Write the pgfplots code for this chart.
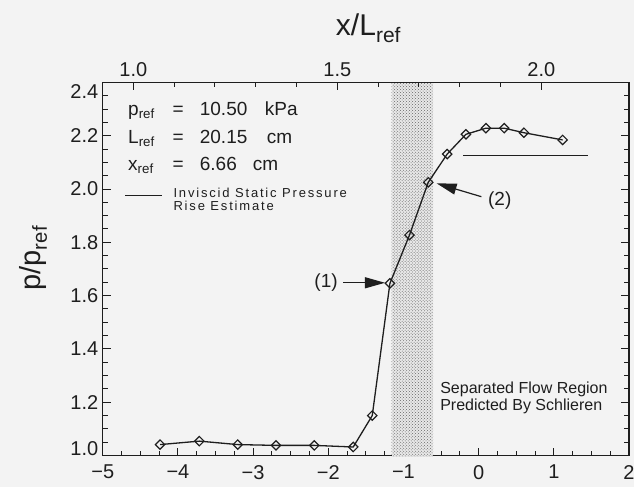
\documentclass[border=0pt]{standalone}
\usepackage{fontspec}
\setmainfont{Liberation Sans}
\newfontfamily\widesans[LetterSpace=14]{Liberation Sans}
\usepackage{pgfplots}
\usepackage{pgfplotstable}
\pgfplotsset{compat=1.18}
\usetikzlibrary{arrows.meta,patterns}

\definecolor{paper}{RGB}{243,243,243}
\definecolor{ink}{RGB}{30,30,30}

% wall pressure distribution, x measured from x_ref
\pgfplotstableread{
x       y
-4.238  1.041
-3.715  1.054
-3.205  1.041
-2.695  1.038
-2.186  1.038
-1.668  1.032
-1.415  1.150
-1.180  1.646
-0.920  1.827
-0.670  2.025
-0.418  2.131
-0.169  2.205
 0.097  2.228
 0.340  2.228
 0.602  2.211
 1.117  2.184
}\pressure

\newcommand\sub[1]{\textsubscript{#1}}
\newcommand\ticksize{\fontsize{20bp}{22bp}\selectfont}

\begin{document}
\begin{tikzpicture}
\path[use as bounding box, fill=paper] (-102.7bp,-31.7bp) rectangle (531bp,455.3bp);
\begin{axis}[
  scale only axis, width=526bp, height=373bp,
  xmin=-5, xmax=2, ymin=1.0, ymax=2.4,
  xtick={-5,-4,-3,-2,-1,0,1,2},
  xticklabels={−5,−4,−3,−2,−1,0,1,2},
  ytick={1.0,1.2,1.4,1.6,1.8,2.0,2.2,2.4},
  yticklabels={\smash{1.0},1.2,1.4,1.6,1.8,2.0,2.2,\smash{\raisebox{-16bp}{2.4}}},
  minor x tick num=3, minor y tick num=3,
  xtick pos=left, ytick pos=both,
  tick align=inside, major tick length=8bp, minor tick length=5bp,
  axis line style={ink, line width=1.1bp},
  every tick/.style={ink, line width=0.9bp},
  tick label style={font=\ticksize, text=ink},
  xticklabel style={yshift=-6bp},
  yticklabel style={xshift=-1bp},
  ylabel={p/p\sub{ref}},
  ylabel style={at={(axis description cs:-0.132,0.529)}, anchor=center,
    font=\fontsize{29bp}{31bp}\selectfont, text=ink},
  clip=false,
]
% separated flow region predicted by schlieren
\fill[gray!18] (axis cs:-1.157,0.996) rectangle (axis cs:-0.604,2.396);
\fill[pattern=crosshatch dots, pattern color=black!60] (axis cs:-1.157,0.996) rectangle (axis cs:-0.604,2.396);

% inviscid static pressure rise estimate
\addplot[ink, line width=1bp] coordinates {(-0.205,2.124) (1.457,2.124)};

\addplot[ink, line width=1.3bp, mark=square, mark size=3.3bp,
  mark options={rotate=45, fill=paper, line width=1.2bp, solid}] table {\pressure};

% reference quantities
\node[anchor=base west, inner sep=0, font=\fontsize{19bp}{20bp}\selectfont, text=ink] at (axis cs:-4.664,2.277)
  {\makebox[44.5bp][l]{p\sub{ref}}=\hspace{16bp}\makebox[65bp][l]{10.50}kPa};
\node[anchor=base west, inner sep=0, font=\fontsize{19bp}{20bp}\selectfont, text=ink] at (axis cs:-4.664,2.171)
  {\makebox[44.5bp][l]{L\sub{ref}}=\hspace{16bp}\makebox[67bp][l]{20.15}cm};
\node[anchor=base west, inner sep=0, font=\fontsize{19bp}{20bp}\selectfont, text=ink] at (axis cs:-4.664,2.071)
  {\makebox[44.5bp][l]{x\sub{ref}}=\hspace{16bp}\makebox[53bp][l]{6.66}cm};

\draw[ink, line width=1bp] (axis cs:-4.702,1.977) -- (axis cs:-4.215,1.977);
\node[anchor=base west, inner sep=0, font=\widesans\fontsize{13bp}{14bp}\selectfont, text=ink] at (axis cs:-4.061,1.969) {Inviscid Static Pressure};
\node[anchor=base west, inner sep=0, font=\widesans\fontsize{13bp}{14bp}\selectfont, text=ink] at (axis cs:-4.061,1.920) {Rise Estimate};

\node[anchor=base west, inner sep=0, font=\fontsize{16bp}{17bp}\selectfont, text=ink] at (axis cs:-0.513,1.233) {Separated Flow Region};
\node[anchor=base west, inner sep=0, font=\fontsize{16bp}{17bp}\selectfont, text=ink] at (axis cs:-0.513,1.170) {Predicted By Schlieren};

% measurement stations (1) and (2)
\draw[ink, line width=1.2bp, -{Triangle[length=20bp, width=11bp]}] (axis cs:-1.804,1.648) -- (axis cs:-1.246,1.648);
\node[anchor=east, inner sep=0, font=\fontsize{19bp}{20bp}\selectfont, text=ink] at (axis cs:-1.872,1.648) {(1)};
\draw[ink, line width=1.2bp, -{Triangle[length=20bp, width=11bp]}] (axis cs:0.036,1.971) -- (axis cs:-0.559,2.021);
\node[anchor=west, inner sep=0, font=\fontsize{19bp}{20bp}\selectfont, text=ink] at (axis cs:0.124,1.958) {(2)};
\end{axis}

% upper scale: x / L_ref
\begin{axis}[
  scale only axis, width=526bp, height=373bp,
  xmin=0.925, xmax=2.215, ymin=1.0, ymax=2.4,
  axis x line*=top, axis y line=none,
  xtick={1.0,1.5,2.0}, xticklabels={1.0,1.5,2.0},
  minor x tick num=4,
  tick align=inside, major tick length=8bp, minor tick length=5bp,
  axis line style={ink, line width=1.1bp, -},
  every tick/.style={ink, line width=0.9bp},
  tick label style={font=\ticksize, text=ink},
  xticklabel style={yshift=2.5bp},
  xlabel={x/L\sub{ref}},
  xlabel style={at={(axis description cs:0.505,1.145)}, anchor=center,
    font=\fontsize{30bp}{32bp}\selectfont, text=ink},
]
\end{axis}
\end{tikzpicture}
\end{document}
